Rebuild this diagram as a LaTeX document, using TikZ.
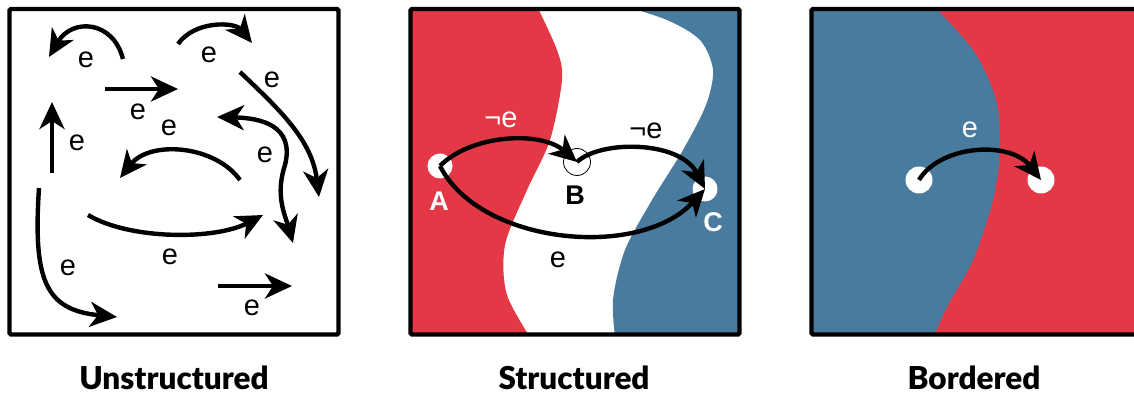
\documentclass[tikz,border=0pt]{standalone}
\usepackage{fontspec}
\setmainfont{Liberation Sans}
\newfontfamily\titlefont{Lato}[BoldFont={* Black}]
\usetikzlibrary{arrows.meta}
\definecolor{regionred}{RGB}{228,56,71}
\definecolor{regionblue}{RGB}{72,123,157}
\newcommand{\panelframe}[1]{\draw[line width=4.3pt,rounded corners=1.5pt] (#1,9) rectangle ++(329,325.5);}

\begin{document}
\begin{tikzpicture}[x=1pt,y=-1pt,>={Stealth[length=27pt,width=25pt,inset=8pt]},
  every node/.style={inner sep=0pt,font=\fontsize{29}{30}\selectfont},
  edge/.style={line width=4.4pt,->},
  spot/.style={circle,fill=white,minimum size=25pt},
  vtx/.style={font=\fontsize{27}{28}\selectfont\bfseries},
  title/.style={anchor=base,font=\titlefont\fontsize{31.5}{33}\selectfont\bfseries}]
\useasboundingbox (0,0) rectangle (1134,395);
% unstructured
\coordinate (u1s) at (123,59); \coordinate (u1e) at (49,57);
\coordinate (u2s) at (178,44); \coordinate (u2e) at (252,43);
\coordinate (u3s) at (105,89); \coordinate (u3e) at (178,89);
\coordinate (u4s) at (52,173); \coordinate (u4e) at (52,102);
\coordinate (u5s) at (240,180); \coordinate (u5e) at (120,178);
\coordinate (u6s) at (240,72); \coordinate (u6e) at (319,197);
\coordinate (u7s) at (217,117); \coordinate (u7m) at (285,165); \coordinate (u7e) at (293,243);
\coordinate (u8s) at (88,215); \coordinate (u8e) at (263,215);
\coordinate (u9s) at (39,188); \coordinate (u9e) at (117,317);
\coordinate (u10s) at (218,286); \coordinate (u10e) at (292,286);
\draw[edge] (u1s) .. controls (113,20) and (72,18) .. (u1e);
\draw[edge] (u2s) .. controls (195,20) and (235,22) .. (u2e);
\draw[edge] (u3s) -- (u3e);
\draw[edge] (u4s) -- (u4e);
\draw[edge] (u5s) .. controls (215,145) and (150,140) .. (u5e);
\draw[edge] (u6s) .. controls (280,110) and (312,140) .. (u6e);
\draw[edge,<->] (u7s) .. controls (260,118) and (295,125) .. (u7m) .. controls (275,195) and (285,215) .. (u7e);
\draw[edge] (u8s) .. controls (130,240) and (215,240) .. (u8e);
\draw[edge] (u9s) .. controls (33,280) and (45,310) .. (u9e);
\draw[edge] (u10s) -- (u10e);
\node (l1) at (86,60) {e}; \node (l2) at (209,55) {e}; \node (l3) at (138,112) {e};
\node (l4) at (77,143) {e}; \node (l5) at (169,128) {e}; \node (l6) at (272,80) {e};
\node (l7) at (265,155) {e}; \node (l8) at (170,257) {e}; \node (l9) at (68,268) {e};
\node (l10) at (252,308) {e};
\panelframe{9.5}
% structured
\begin{scope}
\clip (410.5,9) rectangle (739.5,334.5);
\fill[regionred] (400,0) -- plot[smooth] coordinates {(534,0) (557,50) (562,80) (550,140) (527,190) (505,245) (507,295) (535,345)} -- (400,345) -- cycle;
\fill[regionblue] (750,0) -- plot[smooth] coordinates {(615,3) (667,20) (700,40) (713,70) (706,105) (683,150) (652,200) (625,250) (613,300) (616,345)} -- (750,345) -- cycle;
\end{scope}
\node[spot] (A) at (440,166) {};
\node[circle,draw,line width=0.8pt,minimum size=27pt] (B) at (577,162) {};
\node[spot] (C) at (705,189) {};
\draw[edge] (A.center) .. controls (470,135) and (540,130) .. (B.center);
\draw[edge] (B.center) .. controls (600,140) and (680,140) .. (C.center);
\draw[edge] (A.center) .. controls (480,245) and (640,260) .. (C.center);
\node[vtx,white] (labA) at (439,201) {A};
\node[vtx] (labB) at (575,195) {B};
\node[vtx,white] (labC) at (713,222) {C};
\node[white] (ab) at (501,120) {¬e};
\node (bc) at (646,131) {¬e};
\node (ac) at (558,260) {e};
\panelframe{410.5}
% bordered
\begin{scope}
\clip (811.5,9) rectangle (1140.5,334.5);
\fill[regionred] (800,0) rectangle (1150,345);
\fill[regionblue] (800,0) -- plot[smooth] coordinates {(928,0) (973,50) (996,100) (1000,150) (993,200) (973,260) (947,307) (930,345)} -- (800,345) -- cycle;
\end{scope}
\panelframe{811.5}
\node[spot,minimum size=27pt] (P) at (919,180) {};
\node[spot,minimum size=27pt] (Q) at (1041,180) {};
\draw[edge] (P.center) .. controls (940,145) and (1010,140) .. (Q.center);
\node[white] (pq) at (970,130) {e};
% titles
\node[title] (t1) at (174,389.5) {Unstructured};
\node[title] (t2) at (574,389.5) {Structured};
\node[title] (t3) at (974,389.5) {Bordered};
\end{tikzpicture}
\end{document}
